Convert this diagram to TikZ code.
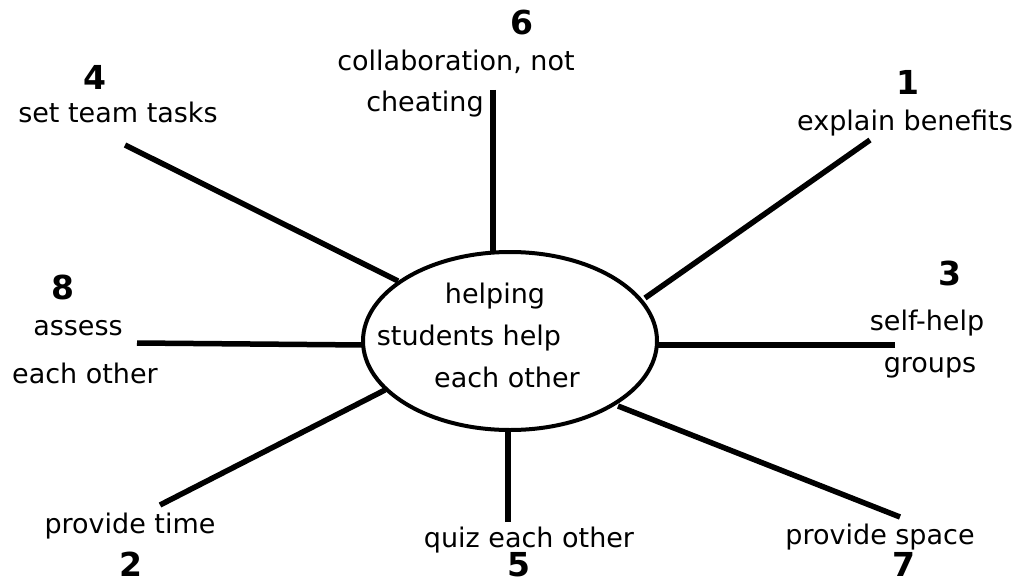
\documentclass[tikz,border=0pt]{standalone}
\usepackage{fontspec}
\setmainfont{DejaVu Sans}
\usetikzlibrary{shapes.geometric}
\begin{document}
\begin{tikzpicture}[x=1pt,y=-1pt,
  lbl/.style={inner sep=0pt,anchor=base,font=\fontsize{27}{30}\selectfont},
  num/.style={inner sep=0pt,anchor=base,font=\fontsize{33}{36}\selectfont\bfseries},
  spoke/.style={line width=5.5pt,line cap=butt}]
\useasboundingbox (0,0) rectangle (1022,583);
% centre ellipse
\node[ellipse,draw,line width=4pt,minimum width=294pt,minimum height=178pt,inner sep=0pt] (c) at (510,341) {};
\node[lbl] (t1) at (495,303) {helping};
\node[lbl] (t2) at (469,345) {students help};
\node[lbl] (t3) at (507,387) {each other};
% spoke end points
\coordinate (e6o) at (493,90);   \coordinate (e6i) at (493,251);
\coordinate (e4o) at (125,145);  \coordinate (e4i) at (398,281);
\coordinate (e1o) at (870,140);  \coordinate (e1i) at (645,298);
\coordinate (e8o) at (137,343);  \coordinate (e8i) at (364,345);
\coordinate (e3o) at (895,345);  \coordinate (e3i) at (656,345);
\coordinate (e2o) at (160,505);  \coordinate (e2i) at (385,390);
\coordinate (e5o) at (508,522);  \coordinate (e5i) at (508,428);
\coordinate (e7o) at (900,517);  \coordinate (e7i) at (618,406);
\foreach \k in {6,4,1,8,3,2,5,7}{\draw[spoke] (e\k o) -- (e\k i);}
% labels
\node[num] (n6) at (522,35) {6};
\node[lbl] (l6a) at (456,71) {collaboration, not};
\node[lbl] (l6b) at (425,112) {cheating};
\node[num] (n4) at (95,90) {4};
\node[lbl] (l4) at (118,122) {set team tasks};
\node[num] (n1) at (908,95) {1};
\node[lbl] (l1) at (905,131) {explain benefits};
\node[num] (n8) at (63,299) {8};
\node[lbl] (l8a) at (78,335) {assess};
\node[lbl] (l8b) at (85,383) {each other};
\node[num] (n3) at (950,285) {3};
\node[lbl] (l3a) at (927,330) {self-help};
\node[lbl] (l3b) at (930,372) {groups};
\node[lbl] (l2) at (130,533) {provide time};
\node[num] (n2) at (131,576) {2};
\node[lbl] (l5) at (529,547) {quiz each other};
\node[num] (n5) at (519,576) {5};
\node[lbl] (l7) at (880,544) {provide space};
\node[num] (n7) at (904,576) {7};
\end{tikzpicture}
\end{document}
